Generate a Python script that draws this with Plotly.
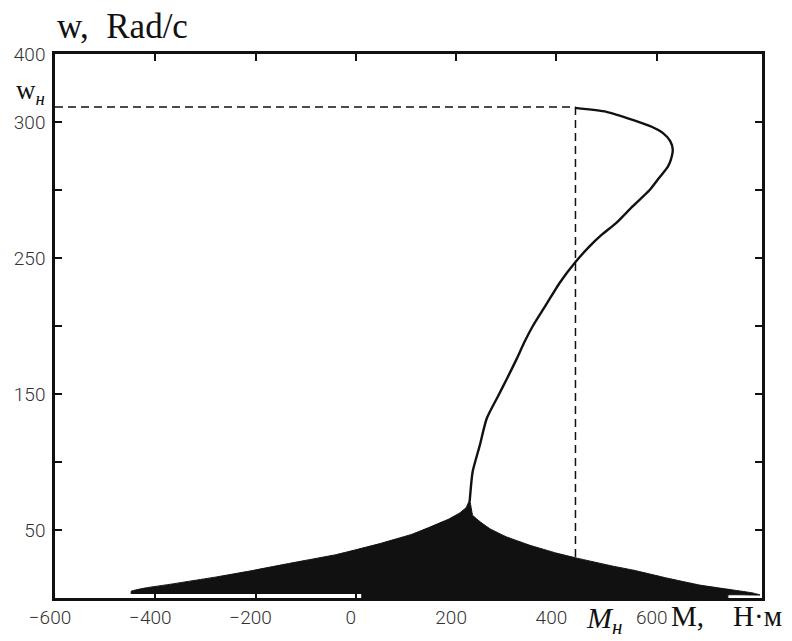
import plotly.graph_objects as go

# Dynamic mechanical characteristic w(M) during start-up
curve_m = [437, 500, 552, 590, 612, 627, 632, 628, 622, 605, 586, 552, 520, 490, 466, 438,
           407, 380, 353, 336, 321, 301, 283, 261, 247, 233, 227]
curve_w = [360.4, 357.5, 351.6, 346.5, 342, 336, 329.7, 322, 317, 309, 300, 288, 276, 267, 258.6, 247,
           232, 216, 200, 188, 176, 161, 148, 132, 112, 93, 71]

# Envelope of the oscillating torque at low speed (filled region)
left_m = [-448, -448, -418, -372, -278, -212, -132, -38, 48, 113, 150, 185, 207, 220, 227]
left_w = [3, 5, 7.5, 10, 15.5, 19.8, 25.5, 32, 40, 47, 52.5, 58, 62.5, 66.5, 72]
right_m = [233, 248, 267, 300, 347, 400, 441, 513, 553, 620, 686, 752, 792, 806]
right_w = [60.8, 56, 51, 45, 38.8, 33, 29.3, 23.4, 20.5, 14.7, 9.5, 5.9, 3.7, 2.2]
bottom_m = [742, 742, 12, 12]
bottom_w = [2.2, 0, 0, 3]

# Rated point
m_rated = 438
w_rated = 361

x_ticks = [-600, -400, -200, 0, 200, 400, 600]
y_ticks = [50, 100, 150, 200, 250, 300, 350, 400]
y_tick_text = ["50", "", "150", "", "250", "", "300", "400"]

fig = go.Figure()

fig.add_trace(go.Scatter(
    x=left_m + right_m + bottom_m,
    y=left_w + right_w + bottom_w,
    fill="toself", fillcolor="#111111",
    line=dict(color="#111111", width=1, shape="spline", smoothing=0.3),
    mode="lines", hoverinfo="skip", showlegend=False,
))

fig.add_trace(go.Scatter(
    x=curve_m, y=curve_w, mode="lines",
    line=dict(color="#111111", width=2.4, shape="spline", smoothing=0.6),
    showlegend=False,
))

# Rated-point guide lines
fig.add_trace(go.Scatter(
    x=[-600, m_rated], y=[w_rated, w_rated], mode="lines",
    line=dict(color="#111111", width=1.5, dash="8px,5px"), showlegend=False,
))
fig.add_trace(go.Scatter(
    x=[m_rated, m_rated], y=[w_rated, 0], mode="lines",
    line=dict(color="#111111", width=1.5, dash="8px,5px"), showlegend=False,
))

tick_font = dict(family="Roboto, sans-serif", size=19, color="#333333", weight=300)
serif = "Liberation Serif, Times New Roman, serif"

fig.update_xaxes(
    range=[-600, 810], tickvals=x_ticks, ticks="inside", ticklen=7, tickwidth=2,
    tickcolor="#111111", showline=True, linecolor="#111111", linewidth=2.5,
    mirror="ticks", showgrid=False, zeroline=False, tickfont=tick_font,
    ticklabelshift=-5,
)
fig.update_yaxes(
    range=[0, 400], tickvals=y_ticks, ticktext=y_tick_text, ticks="inside",
    ticklen=7, tickwidth=2, tickcolor="#111111", showline=True,
    linecolor="#111111", linewidth=2.5, mirror="ticks", showgrid=False,
    zeroline=False, tickfont=tick_font, ticklabelstandoff=3,
)

annotations = [
    dict(text="w,&nbsp;&nbsp;Rad/c", x=0.0, y=1.05, xanchor="left", yanchor="middle",
         font=dict(family=serif, size=35, color="#111111")),
    dict(text="w<sub><i>н</i></sub>", x=-0.034, y=0.93, xanchor="center", yanchor="middle",
         font=dict(family=serif, size=27, color="#111111")),
    dict(text="<i>M</i><sub><i>н</i></sub>", x=0.777, y=-0.04, xanchor="center", yanchor="middle",
         font=dict(family=serif, size=30, color="#111111")),
    dict(text="M,&nbsp;&nbsp;&nbsp; Н·м", x=0.868, y=-0.033, xanchor="left", yanchor="middle",
         font=dict(family=serif, size=29, color="#111111")),
]
for a in annotations:
    a.update(xref="paper", yref="paper", showarrow=False)

fig.update_layout(
    width=792, height=641,
    margin=dict(l=55, r=30, t=54, b=41),
    paper_bgcolor="white", plot_bgcolor="white",
    annotations=annotations,
)

fig.write_html("out.html")
